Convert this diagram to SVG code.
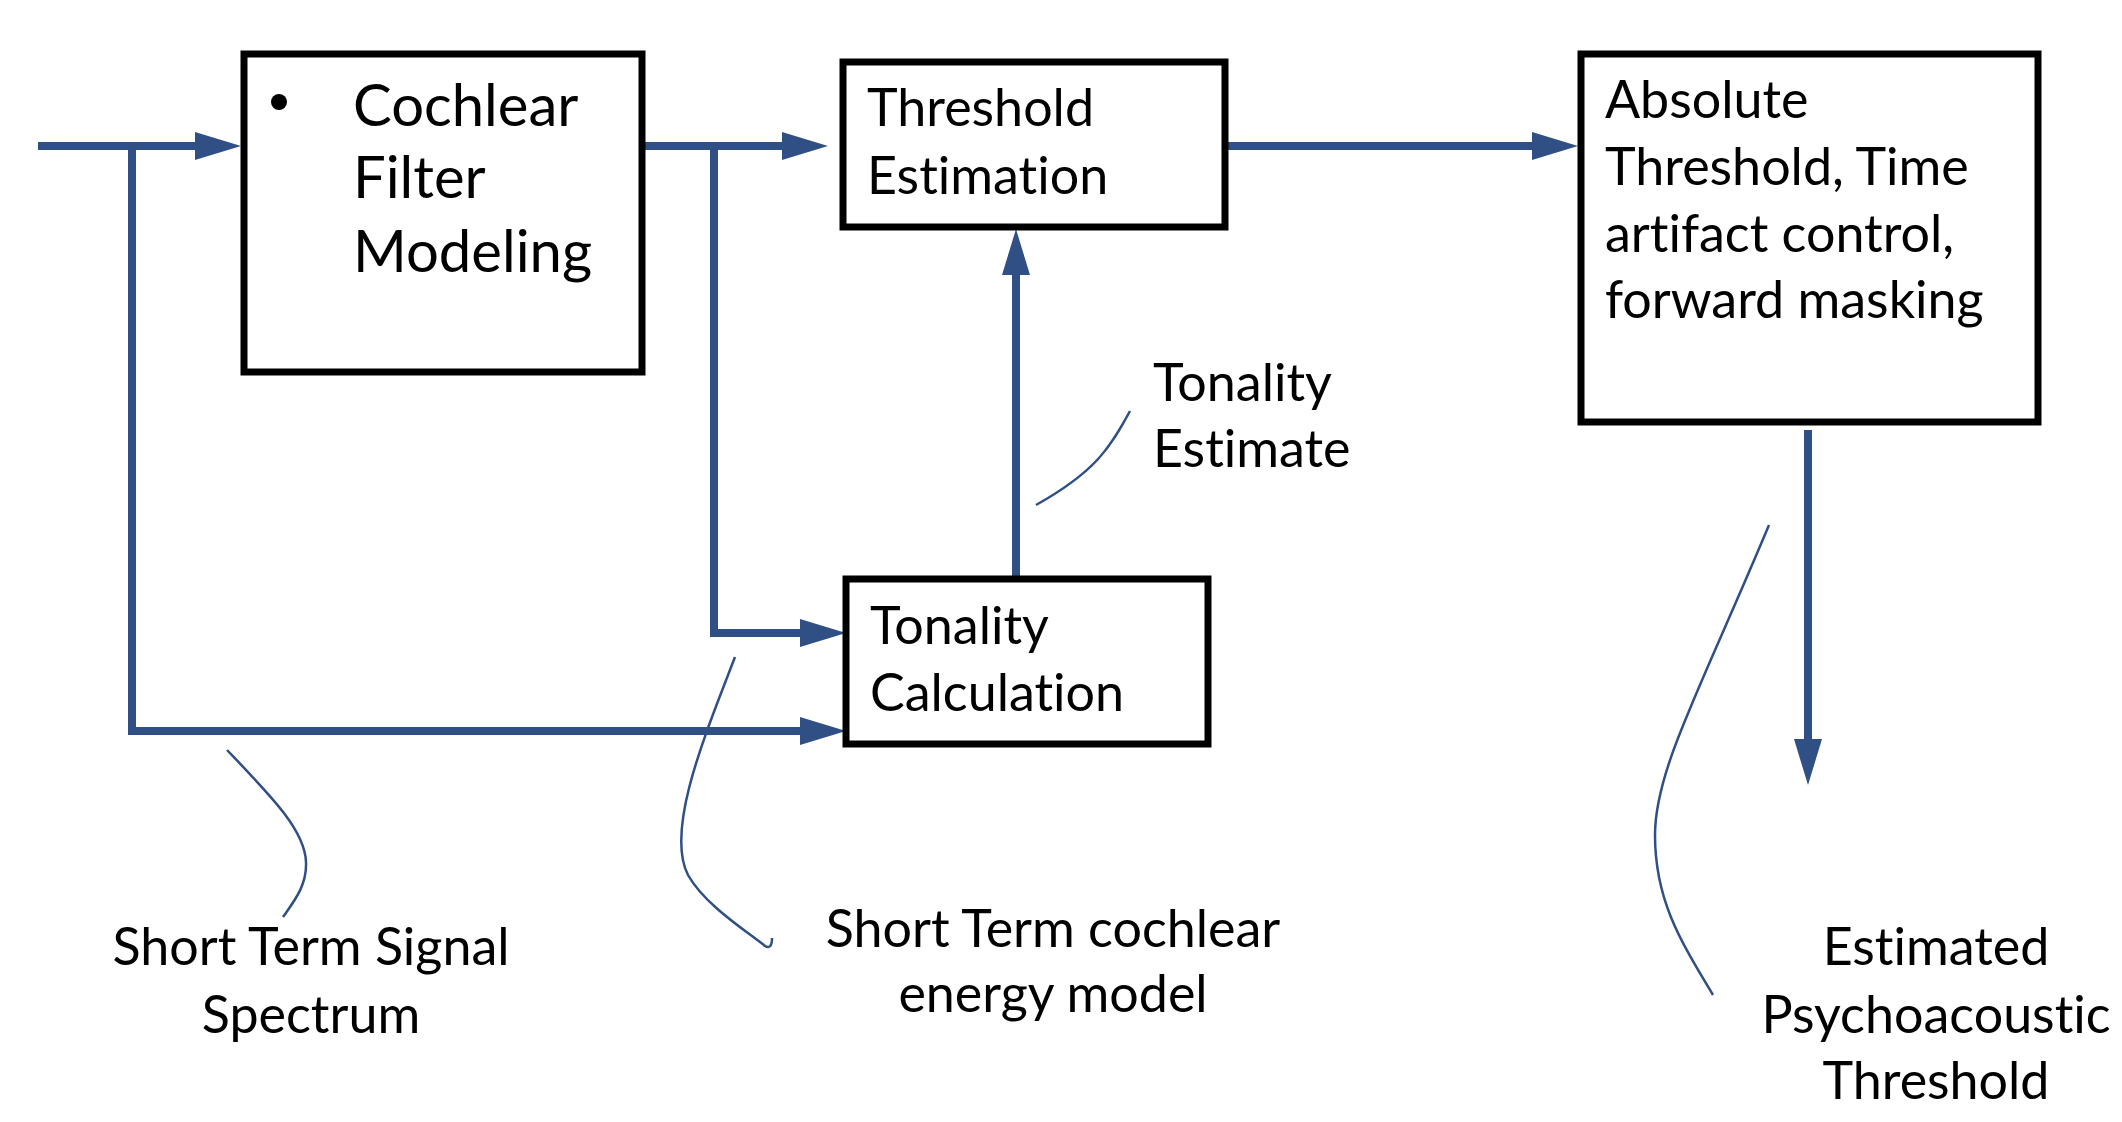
<svg xmlns="http://www.w3.org/2000/svg" width="2122" height="1122" viewBox="0 0 2122 1122">
<style>
.box{fill:#fff;stroke:#000;stroke-width:7}
.wire{fill:none;stroke:#2F4F85;stroke-width:8}
.call{fill:none;stroke:#2F4F85;stroke-width:2.5}
text{font-family:Lato,"Open Sans","Liberation Sans",sans-serif;font-size:52px;fill:#000;font-variant-ligatures:none;font-feature-settings:"liga" 0,"dlig" 0}
.big{font-size:58px}
.mid{text-anchor:middle}
</style>
<defs>
<marker id="ah" markerUnits="userSpaceOnUse" markerWidth="46" markerHeight="28" refX="26" refY="14" orient="auto">
<path d="M0,0 L46,14 L0,28 z" fill="#2F4F85"/>
</marker>
</defs>
<g id="connectors">
<path class="wire" d="M38,146 H221" marker-end="url(#ah)"/>
<path class="wire" d="M132,146 V731 H826" marker-end="url(#ah)"/>
<path class="wire" d="M642,146 H808" marker-end="url(#ah)"/>
<path class="wire" d="M714,146 V633 H826" marker-end="url(#ah)"/>
<path class="wire" d="M1016,576 V249" marker-end="url(#ah)"/>
<path class="wire" d="M1225,146 H1558" marker-end="url(#ah)"/>
<path class="wire" d="M1808,430 V765" marker-end="url(#ah)"/>
<path class="call" d="M1130,411 C1110,448 1095,472 1036,505"/>
<path class="call" d="M227,750 C270,795 305,830 306,862 C307,885 295,900 283,917"/>
<path class="call" d="M735,657 C705,735 665,830 688,875 C705,905 745,930 765,946 Q772,950 772,938"/>
<path class="call" d="M1769,525 C1700,690 1655,770 1655,835 C1655,900 1680,940 1713,995"/>
</g>
<g id="cochlear">
<rect class="box" x="244" y="54" width="398" height="318"/>
<circle cx="279" cy="102" r="8" fill="#000"/>
<text class="big" x="353" y="126">Cochlear</text>
<text class="big" x="353" y="198">Filter</text>
<text class="big" x="353" y="272">Modeling</text>
</g>
<g id="threshold">
<rect class="box" x="843" y="62" width="382" height="165"/>
<text x="867" y="126">Threshold</text>
<text x="867" y="194">Estimation</text>
</g>
<g id="absolute">
<rect class="box" x="1581" y="54" width="457" height="368"/>
<text x="1605" y="118">Absolute</text>
<text x="1605" y="185">Threshold, Time</text>
<text x="1605" y="252">artifact control,</text>
<text x="1605" y="318">forward masking</text>
</g>
<g id="tonality">
<rect class="box" x="846" y="579" width="362" height="165"/>
<text x="870" y="644">Tonality</text>
<text x="870" y="711">Calculation</text>
</g>
<g id="labels">
<text x="1153" y="401">Tonality</text>
<text x="1153" y="467">Estimate</text>
<text class="mid" x="311" y="965">Short Term Signal</text>
<text class="mid" x="311" y="1033">Spectrum</text>
<text class="mid" x="1053" y="947">Short Term cochlear</text>
<text class="mid" x="1053" y="1012">energy model</text>
<text class="mid" x="1936" y="965">Estimated</text>
<text class="mid" x="1936" y="1033">Psychoacoustic</text>
<text class="mid" x="1936" y="1099">Threshold</text>
</g>
</svg>
